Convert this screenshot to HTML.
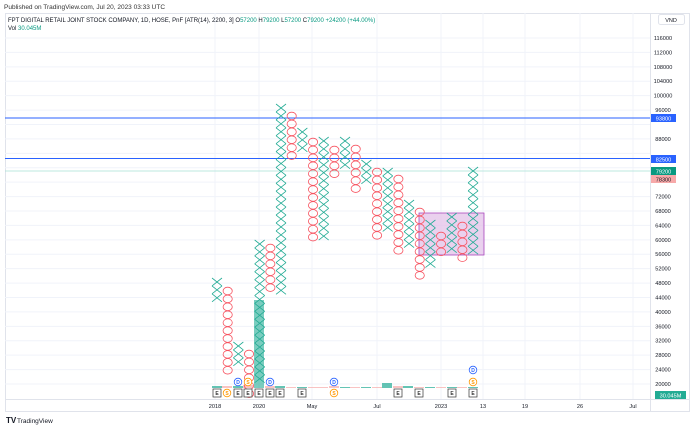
<!DOCTYPE html><html><head><meta charset="utf-8"><style>
body{margin:0;background:#fff;font-family:"Liberation Sans",sans-serif}
svg{display:block}
</style></head><body>
<svg id="s" width="690" height="428" xmlns="http://www.w3.org/2000/svg" font-family="Liberation Sans, sans-serif">
<rect x="0" y="0" width="690" height="428" fill="#fff"/>
<text x="4" y="9" font-size="6.5" fill="#333">Published on TradingView.com, Jul 20, 2023 03:33 UTC</text>
<rect x="5.5" y="13.5" width="684" height="398" fill="none" stroke="#e0e3eb"/>
<line x1="5" y1="399.5" x2="690" y2="399.5" stroke="#e0e3eb"/>
<line x1="650.5" y1="13" x2="650.5" y2="412" stroke="#e0e3eb"/>
<g id="grid" stroke="#f0f3fa"></g>
<text x="8" y="22" font-size="6" fill="#131722">FPT DIGITAL RETAIL JOINT STOCK COMPANY, 1D, HOSE, PnF [ATR(14), 2200, 3]  O<tspan fill="#089981">57200</tspan>  H<tspan fill="#089981">79200</tspan>  L<tspan fill="#089981">57200</tspan>  C<tspan fill="#089981">79200</tspan>  <tspan fill="#089981">+24200 (+44.00%)</tspan></text>
<text x="8" y="30" font-size="6" fill="#131722">Vol  <tspan fill="#089981">30.045M</tspan></text>
<rect x="658.5" y="14.5" width="26" height="10" rx="2" fill="#fff" stroke="#e0e3eb"/>
<text x="671" y="22" font-size="5.5" text-anchor="middle" fill="#131722">VND</text>
<g id="yl" font-size="5.6" fill="#131722" text-anchor="middle"></g>
<line x1="5" y1="171" x2="650" y2="171" stroke="#a8e0d4" stroke-width="0.8"/>
<line x1="5" y1="118" x2="650" y2="118" stroke="#2962ff" stroke-width="1"/>
<line x1="5" y1="158.5" x2="650" y2="158.5" stroke="#2962ff" stroke-width="1"/>
<rect x="419" y="213" width="65" height="42" fill="#e1bee7" fill-opacity="0.7" stroke="#ab47bc" stroke-width="0.8"/>
<g id="vol"></g>
<g id="pnf" fill="none" stroke-width="0.8"></g>
<rect x="651" y="114" width="25" height="8" fill="#2962ff"/><text x="663.5" y="120.5" font-size="5.6" fill="#fff" text-anchor="middle">93800</text>
<rect x="651" y="155" width="25" height="8" fill="#2962ff"/><text x="663.5" y="161.5" font-size="5.6" fill="#fff" text-anchor="middle">82500</text>
<rect x="651" y="167" width="25" height="8" fill="#089981"/><text x="663.5" y="173.5" font-size="5.6" fill="#fff" text-anchor="middle">79200</text>
<rect x="651" y="175" width="25" height="8" fill="#f7a9a9"/><text x="663.5" y="181.5" font-size="5.6" fill="#131722" text-anchor="middle">78300</text>
<rect x="655" y="391" width="31" height="8" fill="#22ab94"/><text x="670.5" y="397.5" font-size="5.6" fill="#fff" text-anchor="middle">30.045M</text>
<g font-size="5.6" fill="#131722" text-anchor="middle">
<text x="215" y="408">2018</text><text x="259" y="408">2020</text><text x="312" y="408">May</text><text x="377" y="408">Jul</text><text x="441" y="408">2023</text><text x="483" y="408">13</text><text x="525" y="408">19</text><text x="580" y="408">26</text><text x="633" y="408">Jul</text>
</g>
<g id="ev" font-size="5" text-anchor="middle" font-weight="bold"></g>
<text x="6" y="423" font-size="8" font-weight="bold" fill="#131722">TV</text>
<text x="17" y="423" font-size="6.5" fill="#131722">TradingView</text>
</svg>
<script>
var NS="http://www.w3.org/2000/svg";
function el(p,t,a,txt){var e=document.createElementNS(NS,t);for(var k in a)e.setAttribute(k,a[k]);if(txt)e.textContent=txt;document.getElementById(p).appendChild(e);return e;}
function Y(p){return 38+(116000-p)*0.003604;}
[215,259,312,377,441,483,525,580,633].forEach(function(x){el("grid","line",{x1:x,y1:13,x2:x,y2:399});});
for(var p=20000;p<=116000;p+=4000){var y=Y(p);el("grid","line",{x1:5,y1:y,x2:650,y2:y});if(p!=84000&&p!=92000&&p!=76000&&p!=80000)el("yl","text",{x:663,y:y+2},String(p));}
var vols=[[217,2,"#22ab94"],[227,2,"#f7a9a9"],[238,2,"#22ab94"],[248,3,"#f7a9a9"],[270,2,"#f7a9a9"],[280,2,"#22ab94"],[291,1,"#f7a9a9"],[302,1,"#22ab94"],[313,1,"#f7a9a9"],[323,1,"#f7a9a9"],[334,2,"#f7a9a9"],[345,1,"#22ab94"],[355,1,"#f7a9a9"],[366,1,"#22ab94"],[377,1,"#f7a9a9"],[387,5,"#22ab94"],[398,2,"#f7a9a9"],[408,2,"#22ab94"],[419,1,"#f7a9a9"],[430,1,"#22ab94"],[441,1,"#f7a9a9"],[452,1,"#22ab94"],[462,1,"#f7a9a9"],[473,1,"#22ab94"]];
vols.forEach(function(v){el("vol","rect",{x:v[0]-5,y:388-v[1],width:10,height:v[1],fill:v[2],opacity:0.7});});
el("vol","rect",{x:254,y:300,width:10,height:88,fill:"#22ab94",opacity:0.6});
var cols=[["X",278,3],["O",287,11],["X",342,3],["O",350,6],["X",240,18],["O",244,6],["X",104,24],["O",112,6],["X",128,3],["O",138,13],["X",137,13],["O",146,4],["X",137,4],["O",145,6],["X",160,3],["O",168,9],["X",168,8],["O",175,10],["X",200,6],["O",208,9],["X",220,6],["O",232,3],["X",213,5],["O",222,5],["X",167,11]];
var h=7.93;
cols.forEach(function(c,i){var cx=217+10.67*i;for(var b=0;b<c[2];b++){var y0=c[1]+b*h;
if(c[0]=="X"){el("pnf","path",{d:"M"+(cx-5)+" "+y0+"L"+(cx+5)+" "+(y0+h)+"M"+(cx+5)+" "+y0+"L"+(cx-5)+" "+(y0+h),stroke:"#22ab94"});}
else el("pnf","ellipse",{cx:cx,cy:y0+h/2,rx:4.6,ry:3.8,stroke:"#f7525f"});}});
function E(x){el("ev","rect",{x:x-4,y:389,width:8,height:8,fill:"#fff",stroke:"#333","stroke-width":0.7});el("ev","text",{x:x,y:395,fill:"#333"},"E");}
function C(x,y,t,col){el("ev","circle",{cx:x,cy:y,r:3.8,fill:"#fff",stroke:col,"stroke-width":0.8});el("ev","text",{x:x,y:y+1.8,fill:col},t);}
[217,238,248,259,270,280,302,398,419,452,473].forEach(E);
C(227,393,"S","#ff9800");C(334,393,"S","#ff9800");
C(238,382,"D","#2962ff");C(248,382,"S","#ff9800");C(270,382,"D","#2962ff");C(334,382,"D","#2962ff");
C(473,382,"S","#ff9800");C(473,370,"D","#2962ff");
</script>
</body></html>
